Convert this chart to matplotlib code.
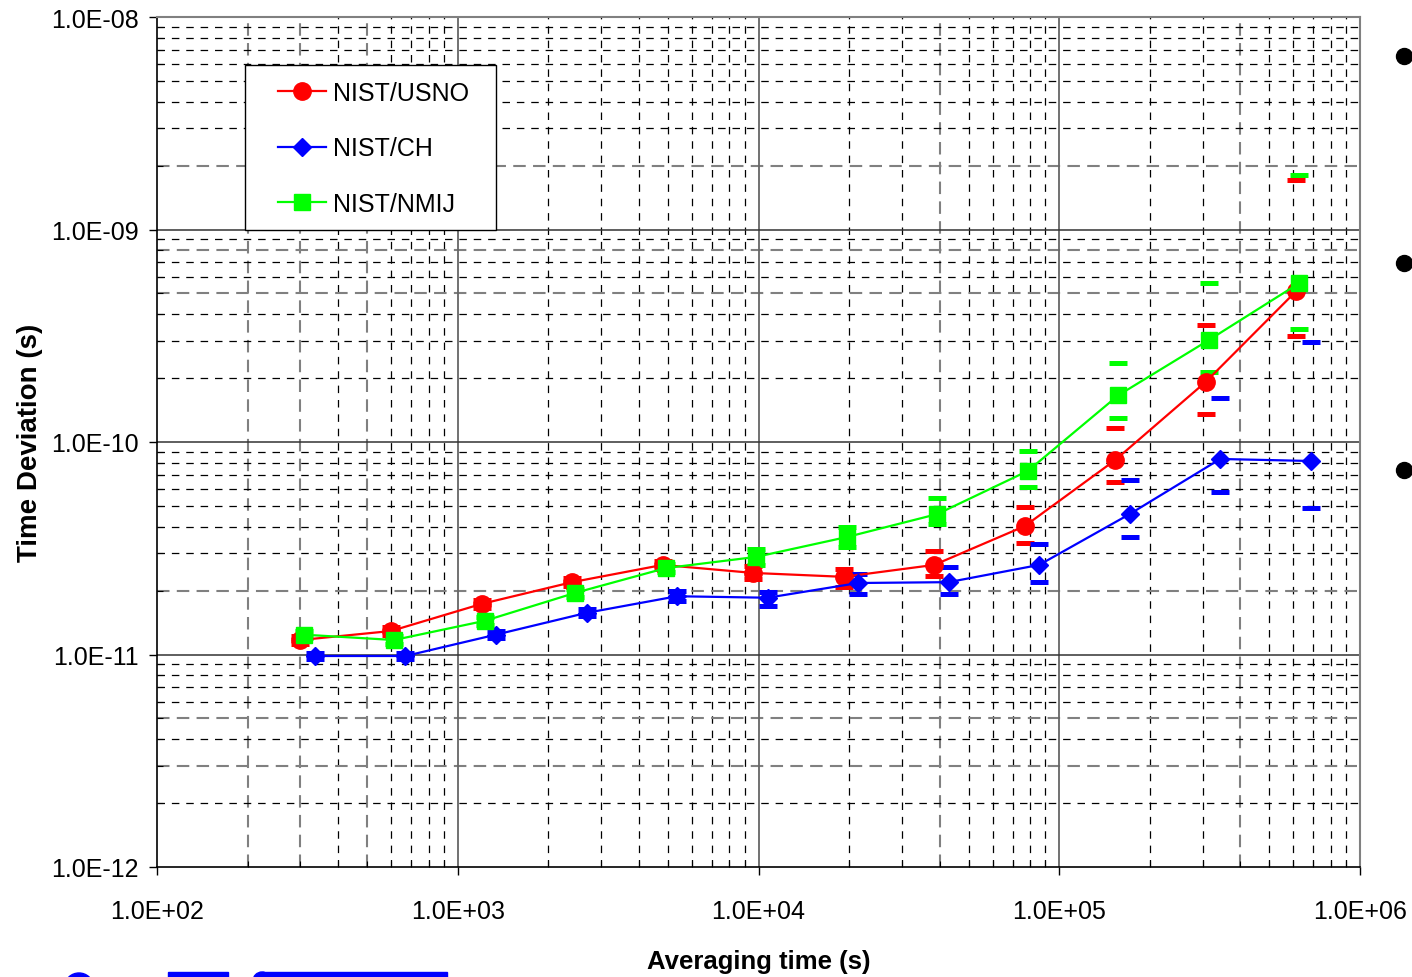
import numpy as np
import matplotlib.pyplot as plt
from matplotlib.ticker import FixedLocator, FuncFormatter, NullFormatter
from matplotlib.lines import Line2D
from matplotlib.patches import Rectangle, Ellipse

plt.rcParams['font.family'] = ['Liberation Sans', 'DejaVu Sans']

# averaging times (s)
tau_usno = [300, 600, 1200, 2400, 4800, 9600, 19200, 38400, 76800, 153600, 307200, 614400]
tau_ch = [335, 670, 1340, 2680, 5360, 10720, 21440, 42880, 85760, 171520, 343040, 686080]
tau_nmij = [307, 614, 1229, 2458, 4915, 9830, 19660, 39320, 78640, 157290, 314570, 629150]

# time deviation (s)
tdev_usno = [1.17e-11, 1.29e-11, 1.73e-11, 2.19e-11, 2.64e-11, 2.42e-11, 2.32e-11, 2.64e-11,
             4.02e-11, 8.23e-11, 1.92e-10, 5.14e-10]
tdev_ch = [9.84e-12, 9.84e-12, 1.24e-11, 1.57e-11, 1.88e-11, 1.85e-11, 2.17e-11, 2.19e-11,
           2.64e-11, 4.58e-11, 8.32e-11, 8.14e-11]
tdev_nmij = [1.24e-11, 1.17e-11, 1.44e-11, 1.95e-11, 2.55e-11, 2.88e-11, 3.57e-11, 4.58e-11,
             7.31e-11, 1.66e-10, 3.02e-10, 5.60e-10]

# confidence limits (lower / upper)
lo_usno = [1.12e-11, 1.24e-11, 1.66e-11, 2.10e-11, 2.52e-11, 2.27e-11, 2.08e-11, 2.34e-11,
           3.35e-11, 6.48e-11, 1.35e-10, 3.15e-10]
hi_usno = [1.22e-11, 1.34e-11, 1.80e-11, 2.28e-11, 2.76e-11, 2.61e-11, 2.52e-11, 3.07e-11,
           4.95e-11, 1.16e-10, 3.56e-10, 1.71e-09]
lo_ch = [9.5e-12, 9.5e-12, 1.19e-11, 1.51e-11, 1.78e-11, 1.69e-11, 1.93e-11, 1.93e-11,
         2.19e-11, 3.57e-11, 5.82e-11, 4.89e-11]
hi_ch = [1.02e-11, 1.02e-11, 1.29e-11, 1.63e-11, 1.98e-11, 1.97e-11, 2.39e-11, 2.58e-11,
         3.31e-11, 6.63e-11, 1.61e-10, 2.96e-10]
lo_nmij = [1.19e-11, 1.12e-11, 1.38e-11, 1.86e-11, 2.44e-11, 2.65e-11, 3.21e-11, 4.11e-11,
           6.14e-11, 1.30e-10, 2.13e-10, 3.40e-10]
hi_nmij = [1.29e-11, 1.22e-11, 1.50e-11, 2.04e-11, 2.66e-11, 3.12e-11, 3.98e-11, 5.45e-11,
           9.08e-11, 2.35e-10, 5.60e-10, 1.80e-09]

x_ticks = [1e2, 1e3, 1e4, 1e5, 1e6]
y_ticks = [1e-12, 1e-11, 1e-10, 1e-9, 1e-8]

# grey gridlines from the overlaid chart
grey_x = [2e2, 3e2, 5e2, 4e4, 4e5]
grey_y = [3e-12, 5e-12, 2e-11, 5e-10, 8e-10, 2e-9]

W, H = 1412, 978
fig = plt.figure(figsize=(W / 100, H / 100), dpi=100)
ax = fig.add_axes([157 / W, 1 - 868 / H, 1203 / W, 850 / H])
ax.set_xscale('log')
ax.set_yscale('log')
ax.set_xlim(1e2, 1e6)
ax.set_ylim(1e-12, 1e-8)

# gridlines
for d in range(2, 6):
    for m in range(2, 10):
        v = m * 10.0 ** d
        if any(abs(v / g - 1) < 1e-6 for g in grey_x):
            ax.axvline(v, color='0.5', lw=1.5, ls=(0, (6, 3.5)), zorder=1)
        else:
            ax.axvline(v, color='black', lw=0.9, ls=(0, (6, 5.5)), zorder=1)
for d in range(-12, -8):
    for m in range(2, 10):
        v = m * 10.0 ** d
        if any(abs(v / g - 1) < 1e-6 for g in grey_y):
            ax.axhline(v, color='0.5', lw=1.5, ls=(0, (6, 3.5)), zorder=1)
        else:
            ax.axhline(v, color='black', lw=0.9, ls=(0, (6, 5.5)), zorder=1)
for v in x_ticks[1:-1]:
    ax.axvline(v, color='0.4', lw=1.3, zorder=1)
for v in y_ticks[1:-1]:
    ax.axhline(v, color='0.2', lw=1.1, zorder=1)

# confidence limits drawn as dashes
for t, lo, hi, c in [(tau_usno, lo_usno, hi_usno, '#ff0000'),
                     (tau_ch, lo_ch, hi_ch, '#0000ff'),
                     (tau_nmij, lo_nmij, hi_nmij, '#00ff00')]:
    ax.plot(t, lo, ls='none', marker='_', ms=12.5, mew=3.6, color=c, zorder=3, clip_on=False)
    ax.plot(t, hi, ls='none', marker='_', ms=12.5, mew=3.6, color=c, zorder=3, clip_on=False)

ax.plot(tau_usno, tdev_usno, color='#ff0000', lw=1.6, marker='o', ms=12.5, zorder=4, label='NIST/USNO')
ax.plot(tau_ch, tdev_ch, color='#0000ff', lw=1.6, marker='D', ms=9.5, zorder=4, label='NIST/CH')
ax.plot(tau_nmij, tdev_nmij, color='#00ff00', lw=1.6, marker='s', ms=12, zorder=4, label='NIST/NMIJ')

fmt = FuncFormatter(lambda v, p: '%.1fE%+03d' % (1.0, int(round(np.log10(v)))))
ax.xaxis.set_major_locator(FixedLocator(x_ticks))
ax.yaxis.set_major_locator(FixedLocator(y_ticks))
ax.xaxis.set_major_formatter(fmt)
ax.yaxis.set_major_formatter(fmt)
ax.xaxis.set_minor_formatter(NullFormatter())
ax.yaxis.set_minor_formatter(NullFormatter())
ax.tick_params(which='major', direction='out', length=6, width=1, labelsize=18, colors='black')
ax.tick_params(axis='x', which='major', pad=17)
ax.tick_params(axis='y', which='major', pad=7)
ax.tick_params(which='minor', direction='in', length=4, width=0.8)

for s in ['left', 'bottom']:
    ax.spines[s].set_color('black')
    ax.spines[s].set_linewidth(1.2)
for s in ['top', 'right']:
    ax.spines[s].set_color('0.5')
    ax.spines[s].set_linewidth(1.5)

ax.set_xlabel('Averaging time (s)', fontsize=18.5, fontweight='bold', labelpad=19)
ax.set_ylabel('Time Deviation (s)', fontsize=20, fontweight='bold', labelpad=6)

# legend: frame drawn separately so that padding matches
ax.add_patch(Rectangle(((245 - 157) / 1203, (868 - 231) / 850), 251 / 1203, 165 / 850,
                       transform=ax.transAxes, facecolor='white', edgecolor='black',
                       lw=1.0, zorder=5))
leg = ax.legend(loc='upper left', bbox_to_anchor=((278 - 157) / 1203, (868 - 82) / 850),
                borderaxespad=0, borderpad=0, fontsize=18, numpoints=1, handlelength=1.9,
                handletextpad=0.3, labelspacing=1.25, frameon=False)
leg.set_zorder(6)

# bullets of the slide on the right
for yb in [57, 264, 471]:
    fig.add_artist(Line2D([1404 / W], [1 - yb / H], marker='o', ms=11.5, color='black',
                          transform=fig.transFigure))

# piece of the logo cut at the bottom edge
fig.add_artist(Ellipse((79 / W, 1 - 987 / H), 28 / W, 26 / H, color='#0000ff',
                       transform=fig.transFigure))
fig.add_artist(Rectangle((168 / W, 0), 60 / W, 5 / H, color='#0000ff', transform=fig.transFigure))
fig.add_artist(Rectangle((262 / W, 0), 185 / W, 5 / H, color='#0000ff', transform=fig.transFigure))
fig.add_artist(Ellipse((262 / W, 1 - 982 / H), 18 / W, 18 / H, color='#0000ff',
                       transform=fig.transFigure))

fig.savefig('out.png', dpi=100)
